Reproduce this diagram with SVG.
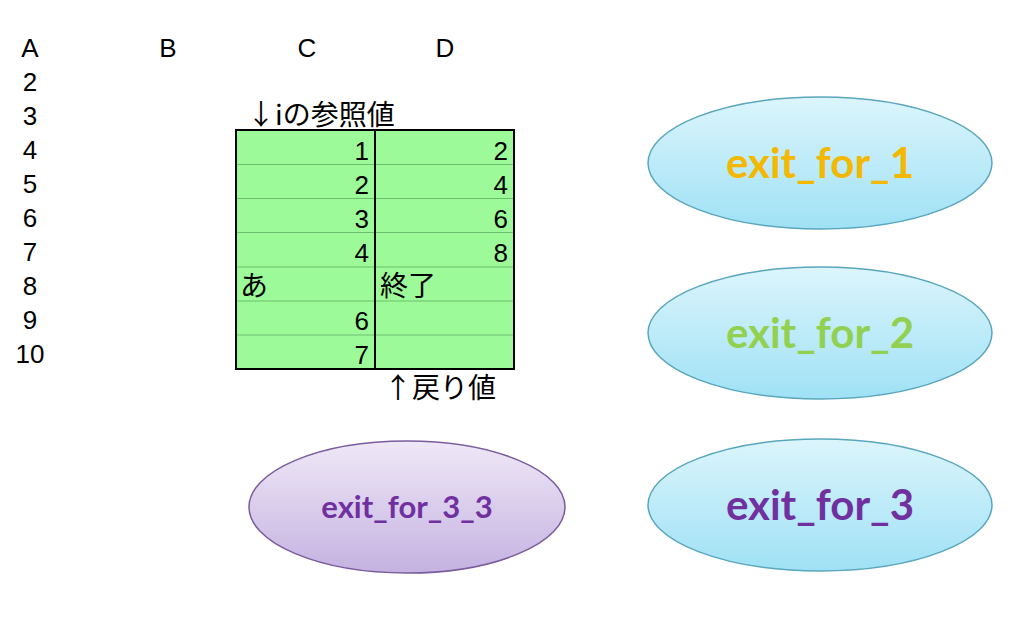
<svg xmlns="http://www.w3.org/2000/svg" width="1024" height="618" viewBox="0 0 1024 618">
<defs>
<linearGradient id="gBlue" x1="0" y1="0" x2="0" y2="1"><stop offset="0" stop-color="#dcf5fc"/><stop offset="1" stop-color="#9fe1f5"/></linearGradient>
<linearGradient id="gPurple" x1="0" y1="0" x2="0" y2="1"><stop offset="0" stop-color="#efe8f7"/><stop offset="1" stop-color="#c5b2e1"/></linearGradient>
<style>
.lbl{font-family:"Liberation Sans","Noto Sans CJK JP",sans-serif;font-size:26px;fill:#000}
.jp{font-family:"Noto Sans CJK JP",sans-serif;font-size:28px;fill:#000}
.num{font-family:"Liberation Sans",sans-serif;font-size:26px;fill:#000;text-anchor:end}
.grid{stroke:#6cbf6c;stroke-width:1}
.ell{font-family:Lato,"Open Sans",sans-serif;font-weight:bold;text-anchor:middle}
.eb{fill:url(#gBlue);stroke:#5aa6bd;stroke-width:1.5}
.ep{fill:url(#gPurple);stroke:#7a5c9e;stroke-width:1.5}
</style>
</defs>
<g id="headers" class="lbl" text-anchor="middle">
<text x="30" y="57">A</text><text x="168" y="57">B</text><text x="307" y="57">C</text><text x="445" y="57">D</text>
<text x="30" y="91">2</text><text x="30" y="125">3</text><text x="30" y="159">4</text><text x="30" y="193">5</text>
<text x="30" y="227">6</text><text x="30" y="261">7</text><text x="30" y="295">8</text><text x="30" y="329">9</text><text x="30" y="363">10</text>
</g>
<g id="table">
<rect x="236" y="130" width="278" height="239" fill="#9cfb98"/>
<g class="grid">
<line x1="237" y1="164.5" x2="513" y2="164.5"/><line x1="237" y1="198.5" x2="513" y2="198.5"/><line x1="237" y1="232.5" x2="513" y2="232.5"/>
<line x1="237" y1="267" x2="513" y2="267"/><line x1="237" y1="301" x2="513" y2="301"/><line x1="237" y1="335" x2="513" y2="335"/>
</g>
<rect x="236" y="130" width="278" height="239" fill="none" stroke="#000" stroke-width="2"/>
<line x1="375" y1="130" x2="375" y2="369" stroke="#000" stroke-width="2"/>
<g class="num">
<text x="369" y="160">1</text><text x="369" y="194">2</text><text x="369" y="228">3</text><text x="369" y="262">4</text>
<text x="369" y="330">6</text><text x="369" y="364">7</text>
<text x="508" y="160">2</text><text x="508" y="194">4</text><text x="508" y="228">6</text><text x="508" y="262">8</text>
</g>
<text class="jp" x="240" y="296">あ</text>
<text class="jp" x="380" y="296">終了</text>
</g>
<text id="top-label" class="jp" x="247" y="125">↓iの参照値</text>
<text id="bottom-label" class="jp" x="384" y="398">↑戻り値</text>
<g id="exit_for_1"><ellipse class="eb" cx="820" cy="163" rx="172" ry="66"/><text class="ell" x="820" y="178" font-size="42" fill="#f5b800">exit_for_1</text></g>
<g id="exit_for_2"><ellipse class="eb" cx="820" cy="333" rx="172" ry="66"/><text class="ell" x="820" y="348" font-size="42" fill="#92d050">exit_for_2</text></g>
<g id="exit_for_3"><ellipse class="eb" cx="820" cy="505" rx="172" ry="66"/><text class="ell" x="820" y="520" font-size="42" fill="#7030a0">exit_for_3</text></g>
<g id="exit_for_3_3"><ellipse class="ep" cx="407" cy="507" rx="158" ry="66"/><text class="ell" x="407" y="518" font-size="31" fill="#7030a0">exit_for_3_3</text></g>
<g id="connectors"/>
</svg>
